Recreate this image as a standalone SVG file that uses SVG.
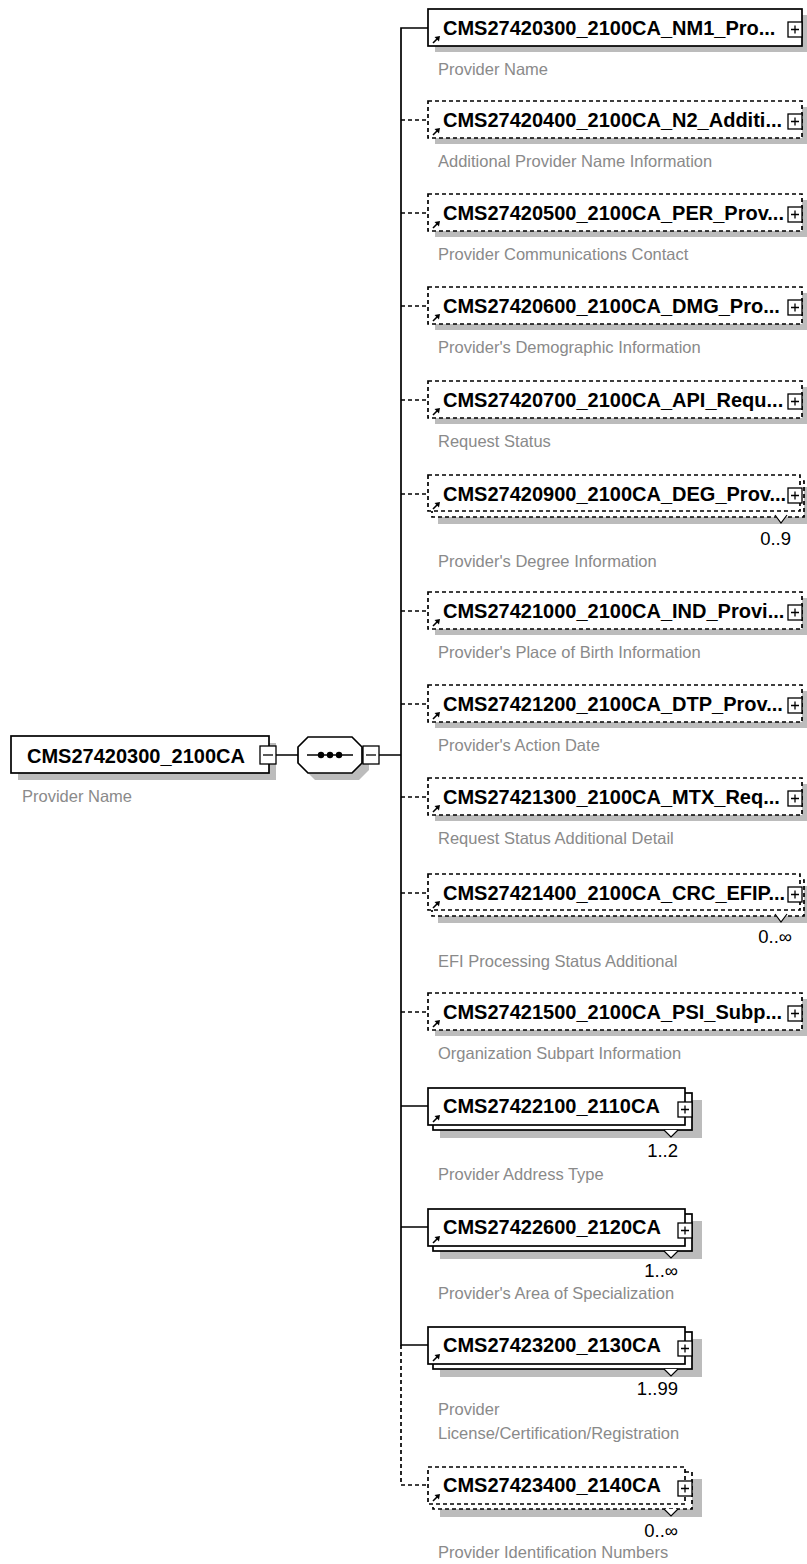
<svg xmlns="http://www.w3.org/2000/svg" xmlns:xlink="http://www.w3.org/1999/xlink" width="807" height="1564" viewBox="0 0 807 1564">
<style>
.box{fill:#fff;stroke:#000;stroke-width:1.7}
.dbox{fill:#fff;stroke:#000;stroke-width:1.7;stroke-dasharray:4 3}
.sh{fill:#bcbcbc}
.nm{font-family:"Liberation Sans",Arial,sans-serif;font-weight:bold;font-size:20px;fill:#000}
.ds{font-family:"Liberation Sans",Arial,sans-serif;font-size:16.5px;fill:#8a8a8a}
.mu{font-family:"Liberation Sans",Arial,sans-serif;font-size:18.5px;fill:#000;text-anchor:end}
.ln{stroke:#000;stroke-width:1.7;fill:none}
.dl{stroke:#000;stroke-width:1.7;fill:none;stroke-dasharray:4 3}
.pb{fill:#fff;stroke:#000;stroke-width:1.3}
.nt{fill:#fff;stroke:#000;stroke-width:1.2}
</style>
<defs>
<g id="plus"><rect x="0" y="0" width="14" height="15" class="pb"/><path d="M3,7.5H11M7,3.5V11.5" stroke="#000" stroke-width="1.3"/></g>
<g id="minus"><rect x="0" y="0" width="16" height="18" class="pb"/><path d="M3,9H13" stroke="#000" stroke-width="1.3"/></g>
<g id="ref"><path d="M0,7L5,2" stroke="#000" stroke-width="1.6"/><path d="M7,0L1.5,1L6,5.5Z" fill="#000"/></g>
</defs>

<g id="connectors">
<path class="ln" d="M276,755H298M379,755H401"/>
<path class="ln" d="M428,28H401V1345H428"/>
<path class="ln" d="M401,1106H428M401,1227H428"/>
<path class="dl" d="M401,120H428M401,213H428M401,306H428M401,400H428M401,494H428M401,611H428M401,704H428M401,797H428M401,893H428M401,1012H428"/>
<path class="dl" d="M401,1345V1485H428"/>
</g>

<g id="root">
<rect class="sh" x="18" y="743" width="258" height="37"/>
<rect class="box" x="11" y="736" width="258" height="37"/>
<text class="nm" x="27" y="763">CMS27420300_2100CA</text>
<use xlink:href="#minus" x="260" y="746"/>
<text class="ds" x="22" y="802">Provider Name</text>
</g>

<g id="sequence">
<polygon class="sh" points="315,744 359,744 369,754 369,770 359,780 315,780 305,770 305,754"/>
<polygon class="box" points="308,737 352,737 362,747 362,763 352,773 308,773 298,763 298,747"/>
<path d="M307,755H353" stroke="#000" stroke-width="1.5"/>
<circle cx="321" cy="755" r="3.2"/><circle cx="330" cy="755" r="3.2"/><circle cx="339" cy="755" r="3.2"/>
<use xlink:href="#minus" x="363" y="746"/>
</g>

<g id="n1">
<rect class="sh" x="435" y="15" width="374" height="37"/>
<rect class="box" x="428" y="9" width="374" height="37"/>
<text class="nm" x="443" y="35">CMS27420300_2100CA_NM1_Pro...</text>
<use xlink:href="#ref" x="433" y="36"/>
<use xlink:href="#plus" x="788" y="22"/>
<text class="ds" x="438" y="75">Provider Name</text>
</g>

<g id="n2">
<rect class="sh" x="435" y="107" width="374" height="37"/>
<rect class="dbox" x="428" y="101" width="374" height="37"/>
<text class="nm" x="443" y="127">CMS27420400_2100CA_N2_Additi...</text>
<use xlink:href="#ref" x="433" y="128"/>
<use xlink:href="#plus" x="788" y="114"/>
<text class="ds" x="438" y="167">Additional Provider Name Information</text>
</g>

<g id="n3">
<rect class="sh" x="435" y="200" width="374" height="37"/>
<rect class="dbox" x="428" y="194" width="374" height="37"/>
<text class="nm" x="443" y="220">CMS27420500_2100CA_PER_Prov...</text>
<use xlink:href="#ref" x="433" y="221"/>
<use xlink:href="#plus" x="788" y="207"/>
<text class="ds" x="438" y="260">Provider Communications Contact</text>
</g>

<g id="n4">
<rect class="sh" x="435" y="293" width="374" height="37"/>
<rect class="dbox" x="428" y="287" width="374" height="37"/>
<text class="nm" x="443" y="313">CMS27420600_2100CA_DMG_Pro...</text>
<use xlink:href="#ref" x="433" y="314"/>
<use xlink:href="#plus" x="788" y="300"/>
<text class="ds" x="438" y="353">Provider's Demographic Information</text>
</g>

<g id="n5">
<rect class="sh" x="435" y="387" width="374" height="37"/>
<rect class="dbox" x="428" y="381" width="374" height="37"/>
<text class="nm" x="443" y="407">CMS27420700_2100CA_API_Requ...</text>
<use xlink:href="#ref" x="433" y="408"/>
<use xlink:href="#plus" x="788" y="394"/>
<text class="ds" x="438" y="447">Request Status</text>
</g>

<g id="n6">
<rect class="sh" x="438" y="487" width="372" height="37"/>
<rect class="dbox" x="432" y="481" width="372" height="36"/>
<rect class="dbox" x="428" y="475" width="372" height="36"/>
<text class="nm" x="443" y="501">CMS27420900_2100CA_DEG_Prov...</text>
<use xlink:href="#ref" x="433" y="502"/>
<use xlink:href="#plus" x="788" y="488"/>
<polyline class="nt" points="775,515 781,523 787,515"/>
<text class="mu" x="791" y="545">0..9</text>
<text class="ds" x="438" y="567">Provider's Degree Information</text>
</g>

<g id="n7">
<rect class="sh" x="435" y="598" width="374" height="37"/>
<rect class="dbox" x="428" y="592" width="374" height="37"/>
<text class="nm" x="443" y="618">CMS27421000_2100CA_IND_Provi...</text>
<use xlink:href="#ref" x="433" y="619"/>
<use xlink:href="#plus" x="788" y="605"/>
<text class="ds" x="438" y="658">Provider's Place of Birth Information</text>
</g>

<g id="n8">
<rect class="sh" x="435" y="691" width="374" height="37"/>
<rect class="dbox" x="428" y="685" width="374" height="37"/>
<text class="nm" x="443" y="711">CMS27421200_2100CA_DTP_Prov...</text>
<use xlink:href="#ref" x="433" y="712"/>
<use xlink:href="#plus" x="788" y="698"/>
<text class="ds" x="438" y="751">Provider's Action Date</text>
</g>

<g id="n9">
<rect class="sh" x="435" y="784" width="374" height="37"/>
<rect class="dbox" x="428" y="778" width="374" height="37"/>
<text class="nm" x="443" y="804">CMS27421300_2100CA_MTX_Req...</text>
<use xlink:href="#ref" x="433" y="805"/>
<use xlink:href="#plus" x="788" y="791"/>
<text class="ds" x="438" y="844">Request Status Additional Detail</text>
</g>

<g id="n10">
<rect class="sh" x="438" y="886" width="372" height="37"/>
<rect class="dbox" x="432" y="880" width="372" height="36"/>
<rect class="dbox" x="428" y="874" width="372" height="36"/>
<text class="nm" x="443" y="900">CMS27421400_2100CA_CRC_EFIP...</text>
<use xlink:href="#ref" x="433" y="901"/>
<use xlink:href="#plus" x="788" y="887"/>
<polyline class="nt" points="775,914 781,922 787,914"/>
<text class="mu" x="792" y="943">0..∞</text>
<text class="ds" x="438" y="967">EFI Processing Status Additional</text>
</g>

<g id="n11">
<rect class="sh" x="435" y="999" width="374" height="37"/>
<rect class="dbox" x="428" y="993" width="374" height="37"/>
<text class="nm" x="443" y="1019">CMS27421500_2100CA_PSI_Subp...</text>
<use xlink:href="#ref" x="433" y="1020"/>
<use xlink:href="#plus" x="788" y="1006"/>
<text class="ds" x="438" y="1059">Organization Subpart Information</text>
</g>

<g id="n12">
<rect class="sh" x="440" y="1100" width="262" height="38"/>
<rect class="box" x="433" y="1093" width="259" height="37"/>
<rect class="box" x="428" y="1088" width="257" height="37"/>
<text class="nm" x="443" y="1113">CMS27422100_2110CA</text>
<use xlink:href="#ref" x="433" y="1115"/>
<use xlink:href="#plus" x="678" y="1102"/>
<polyline class="nt" points="664,1130 671,1137 678,1130"/>
<text class="mu" x="678" y="1157">1..2</text>
<text class="ds" x="438" y="1180">Provider Address Type</text>
</g>

<g id="n13">
<rect class="sh" x="440" y="1221" width="262" height="38"/>
<rect class="box" x="433" y="1214" width="259" height="37"/>
<rect class="box" x="428" y="1209" width="257" height="37"/>
<text class="nm" x="443" y="1234">CMS27422600_2120CA</text>
<use xlink:href="#ref" x="433" y="1236"/>
<use xlink:href="#plus" x="678" y="1223"/>
<polyline class="nt" points="664,1251 671,1258 678,1251"/>
<text class="mu" x="678" y="1277">1..∞</text>
<text class="ds" x="438" y="1299">Provider's Area of Specialization</text>
</g>

<g id="n14">
<rect class="sh" x="440" y="1339" width="262" height="38"/>
<rect class="box" x="433" y="1332" width="259" height="37"/>
<rect class="box" x="428" y="1327" width="257" height="37"/>
<text class="nm" x="443" y="1352">CMS27423200_2130CA</text>
<use xlink:href="#ref" x="433" y="1354"/>
<use xlink:href="#plus" x="678" y="1341"/>
<polyline class="nt" points="664,1369 671,1376 678,1369"/>
<text class="mu" x="678" y="1395">1..99</text>
<text class="ds" x="438" y="1415">Provider</text>
<text class="ds" x="438" y="1439">License/Certification/Registration</text>
</g>

<g id="n15">
<rect class="sh" x="440" y="1479" width="262" height="38"/>
<rect class="dbox" x="433" y="1472" width="259" height="37"/>
<rect class="dbox" x="428" y="1467" width="257" height="37"/>
<text class="nm" x="443" y="1492">CMS27423400_2140CA</text>
<use xlink:href="#ref" x="433" y="1494"/>
<use xlink:href="#plus" x="678" y="1481"/>
<polyline class="nt" points="664,1509 671,1516 678,1509"/>
<text class="mu" x="678" y="1537">0..∞</text>
<text class="ds" x="438" y="1558">Provider Identification Numbers</text>
</g>
</svg>
